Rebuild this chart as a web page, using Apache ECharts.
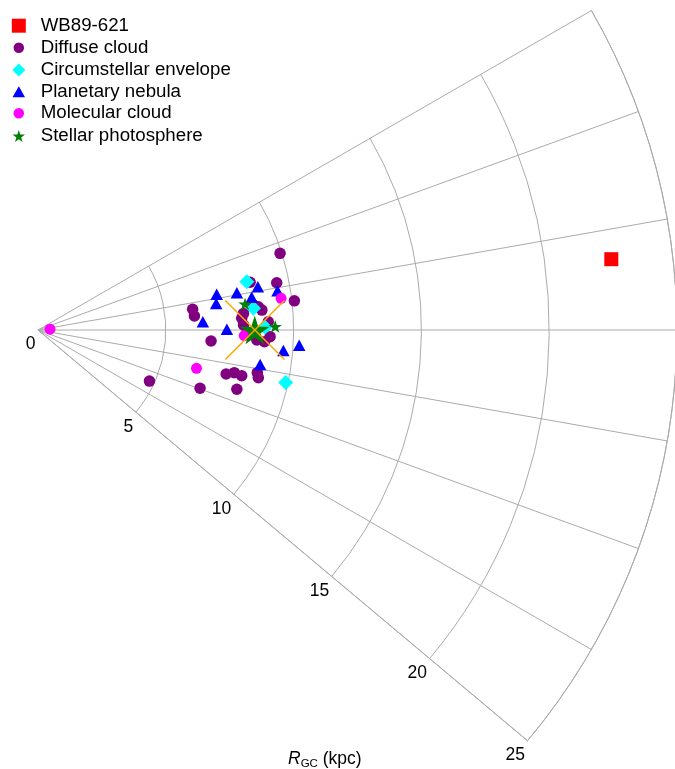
<!DOCTYPE html>
<html><head><meta charset="utf-8">
<script src="https://cdn.jsdelivr.net/npm/echarts@6/dist/echarts.min.js"></script>
<style>html,body{margin:0;padding:0;background:#fff}#c{width:675px;height:769px}</style>
</head><body><div id="c"></div>
<script>
// Radial (R_GC, kpc) and angular (deg) ticks
const radiusTicks = [0, 5, 10, 15, 20, 25];
const angleTicks = [-40, -30, -20, -10, 0, 10, 20, 30];

// Source positions in the Galactic plane, kpc: [x from Galactic Centre, y]
const wb89 = [[22.43, 2.77]];
const diffuseCloud = [[9.47,3.00],[9.34,1.85],[10.03,1.14],[6.05,0.81],[6.12,0.55],[6.77,-0.43],[6.34,-2.28],
  [7.36,-1.72],[7.68,-1.67],[7.97,-1.79],[8.58,-1.67],[8.62,-1.87],[7.78,-2.32],[4.36,-2.00],[8.30,1.87],
  [8.62,0.91],[8.76,0.78],[8.04,0.20],[8.17,-0.13],[8.56,-0.39],[8.86,-0.46],[9.08,-0.26],[9.01,0.32],
  [7.97,0.46],[8.04,0.65],[8.43,0.98]];
const circumstellar = [[8.17,1.89],[8.43,0.85],[8.88,0.11],[9.69,-2.05]];
const planetary = [[9.37,1.54],[8.60,1.69],[7.78,1.46],[6.99,1.40],[6.97,1.04],[8.36,1.28],[6.45,0.32],
  [7.39,0.03],[9.60,-0.80],[10.22,-0.60],[8.69,-1.35]];
const molecular = [[0.47,0.03],[9.51,1.24],[6.20,-1.50],[8.07,-0.22]];
const stellar = [[8.10,1.02],[9.28,0.14]];
const sun = [8.48, 0.0];
// orange cross arms through the Sun, kpc
const crossArmA = [[7.33,1.155],[9.64,-1.155]];
const crossArmB = [[7.33,-1.155],[9.64,1.155]];

const legendNames = ['WB89-621','Diffuse cloud','Circumstellar envelope','Planetary nebula','Molecular cloud','Stellar photosphere'];

function toPolar(p) { return [Math.hypot(p[0], p[1]), Math.atan2(p[1], p[0]) * 180 / Math.PI]; }

const STAR = 'path://M0,-1L0.2245,-0.309L0.9511,-0.309L0.3633,0.118L0.5878,0.809L0,0.382L-0.5878,0.809L-0.3633,0.118L-0.9511,-0.309L-0.2245,-0.309Z';
const GRID = '#ababab';
const FONT = 'Liberation Sans';

const legendIcons = [
  ['rect', 14, 14], ['circle', 10.5, 10.5], ['diamond', 13, 13],
  ['triangle', 12.5, 11], ['circle', 10.5, 10.5], [STAR, 12.5, 12]
];
const rowCenters = [25.7, 47.7, 70, 91.7, 113.3, 136];
const legends = legendNames.map((n, i) => {
  const [ic, w, h] = legendIcons[i];
  return {
    data: [{ name: n, icon: ic }],
    orient: 'vertical', padding: 0, itemGap: 0, selectedMode: false,
    left: 18.8 - w / 2, top: rowCenters[i] - 11,
    itemWidth: w, itemHeight: h,
    textStyle: { fontFamily: FONT, fontSize: 18.7, color: '#000', lineHeight: 22, padding: [0, 0, 0, 16.9 - w / 2] }
  };
});

function scatter(name, data, symbol, size, color) {
  return { type: 'scatter', coordinateSystem: 'polar', name, symbol, symbolSize: size,
    itemStyle: { color, opacity: 1 }, silent: true, emphasis: { disabled: true },
    data: data.map(toPolar) };
}

const chart = echarts.init(document.getElementById('c'), null, { renderer: 'canvas' });
chart.setOption({
  animation: false,
  backgroundColor: '#fff',
  title: {
    text: '{i|R}{s|GC}{n| (kpc)}', left: 288, top: 748, padding: 0,
    textStyle: { fontWeight: 'normal', rich: {
      i: { fontFamily: FONT, fontSize: 17.5, fontStyle: 'italic', fontWeight: 'normal', color: '#000', lineHeight: 22 },
      s: { fontFamily: FONT, fontSize: 11.5, fontWeight: 'normal', color: '#000', lineHeight: 10, verticalAlign: 'bottom' },
      n: { fontFamily: FONT, fontSize: 17.5, fontWeight: 'normal', color: '#000', lineHeight: 22 }
    } }
  },
  legend: legends,
  polar: { center: [38, 330], radius: 639 },
  radiusAxis: {
    type: 'value', min: radiusTicks[0], max: radiusTicks[radiusTicks.length - 1], interval: 5,
    axisLine: { show: true, lineStyle: { color: GRID, width: 1 } },
    axisTick: { show: false },
    axisLabel: { show: true, fontFamily: FONT, fontSize: 17.5, color: '#000', margin: -4,
      align: 'right', verticalAlign: 'top', padding: [2.5, 0, 0, 0],
      formatter: v => radiusTicks.includes(v) ? String(v) : '' },
    splitLine: { show: true, lineStyle: { color: GRID, width: 1 } }
  },
  angleAxis: {
    type: 'value', min: angleTicks[0], max: angleTicks[angleTicks.length - 1], interval: 10,
    startAngle: -40, endAngle: 30, clockwise: false,
    axisLine: { show: true, lineStyle: { color: GRID, width: 1 } },
    axisTick: { show: false }, axisLabel: { show: false },
    splitLine: { show: true, lineStyle: { color: GRID, width: 1 } }
  },
  series: [
    scatter('WB89-621', wb89, 'rect', 14, '#ff0000'),
    scatter('Diffuse cloud', diffuseCloud, 'circle', 11.5, '#800080'),
    scatter('Circumstellar envelope', circumstellar, 'diamond', 15, '#00ffff'),
    scatter('Planetary nebula', planetary, 'triangle', [12.5, 11.5], '#0000ff'),
    scatter('Molecular cloud', molecular, 'circle', 11, '#ff00ff'),
    Object.assign(scatter('Stellar photosphere', stellar, STAR, [13.5, 12.8], '#008000'), {
      data: stellar.map(toPolar).concat([{ value: toPolar(sun), symbolSize: [30, 28.5] }])
    }),
    { type: 'line', coordinateSystem: 'polar', data: crossArmA.map(toPolar), showSymbol: false, silent: true,
      lineStyle: { color: '#ffa500', width: 1.5 }, emphasis: { disabled: true } },
    { type: 'line', coordinateSystem: 'polar', data: crossArmB.map(toPolar), showSymbol: false, silent: true,
      lineStyle: { color: '#ffa500', width: 1.5 }, emphasis: { disabled: true } }
  ]
});
</script></body></html>
